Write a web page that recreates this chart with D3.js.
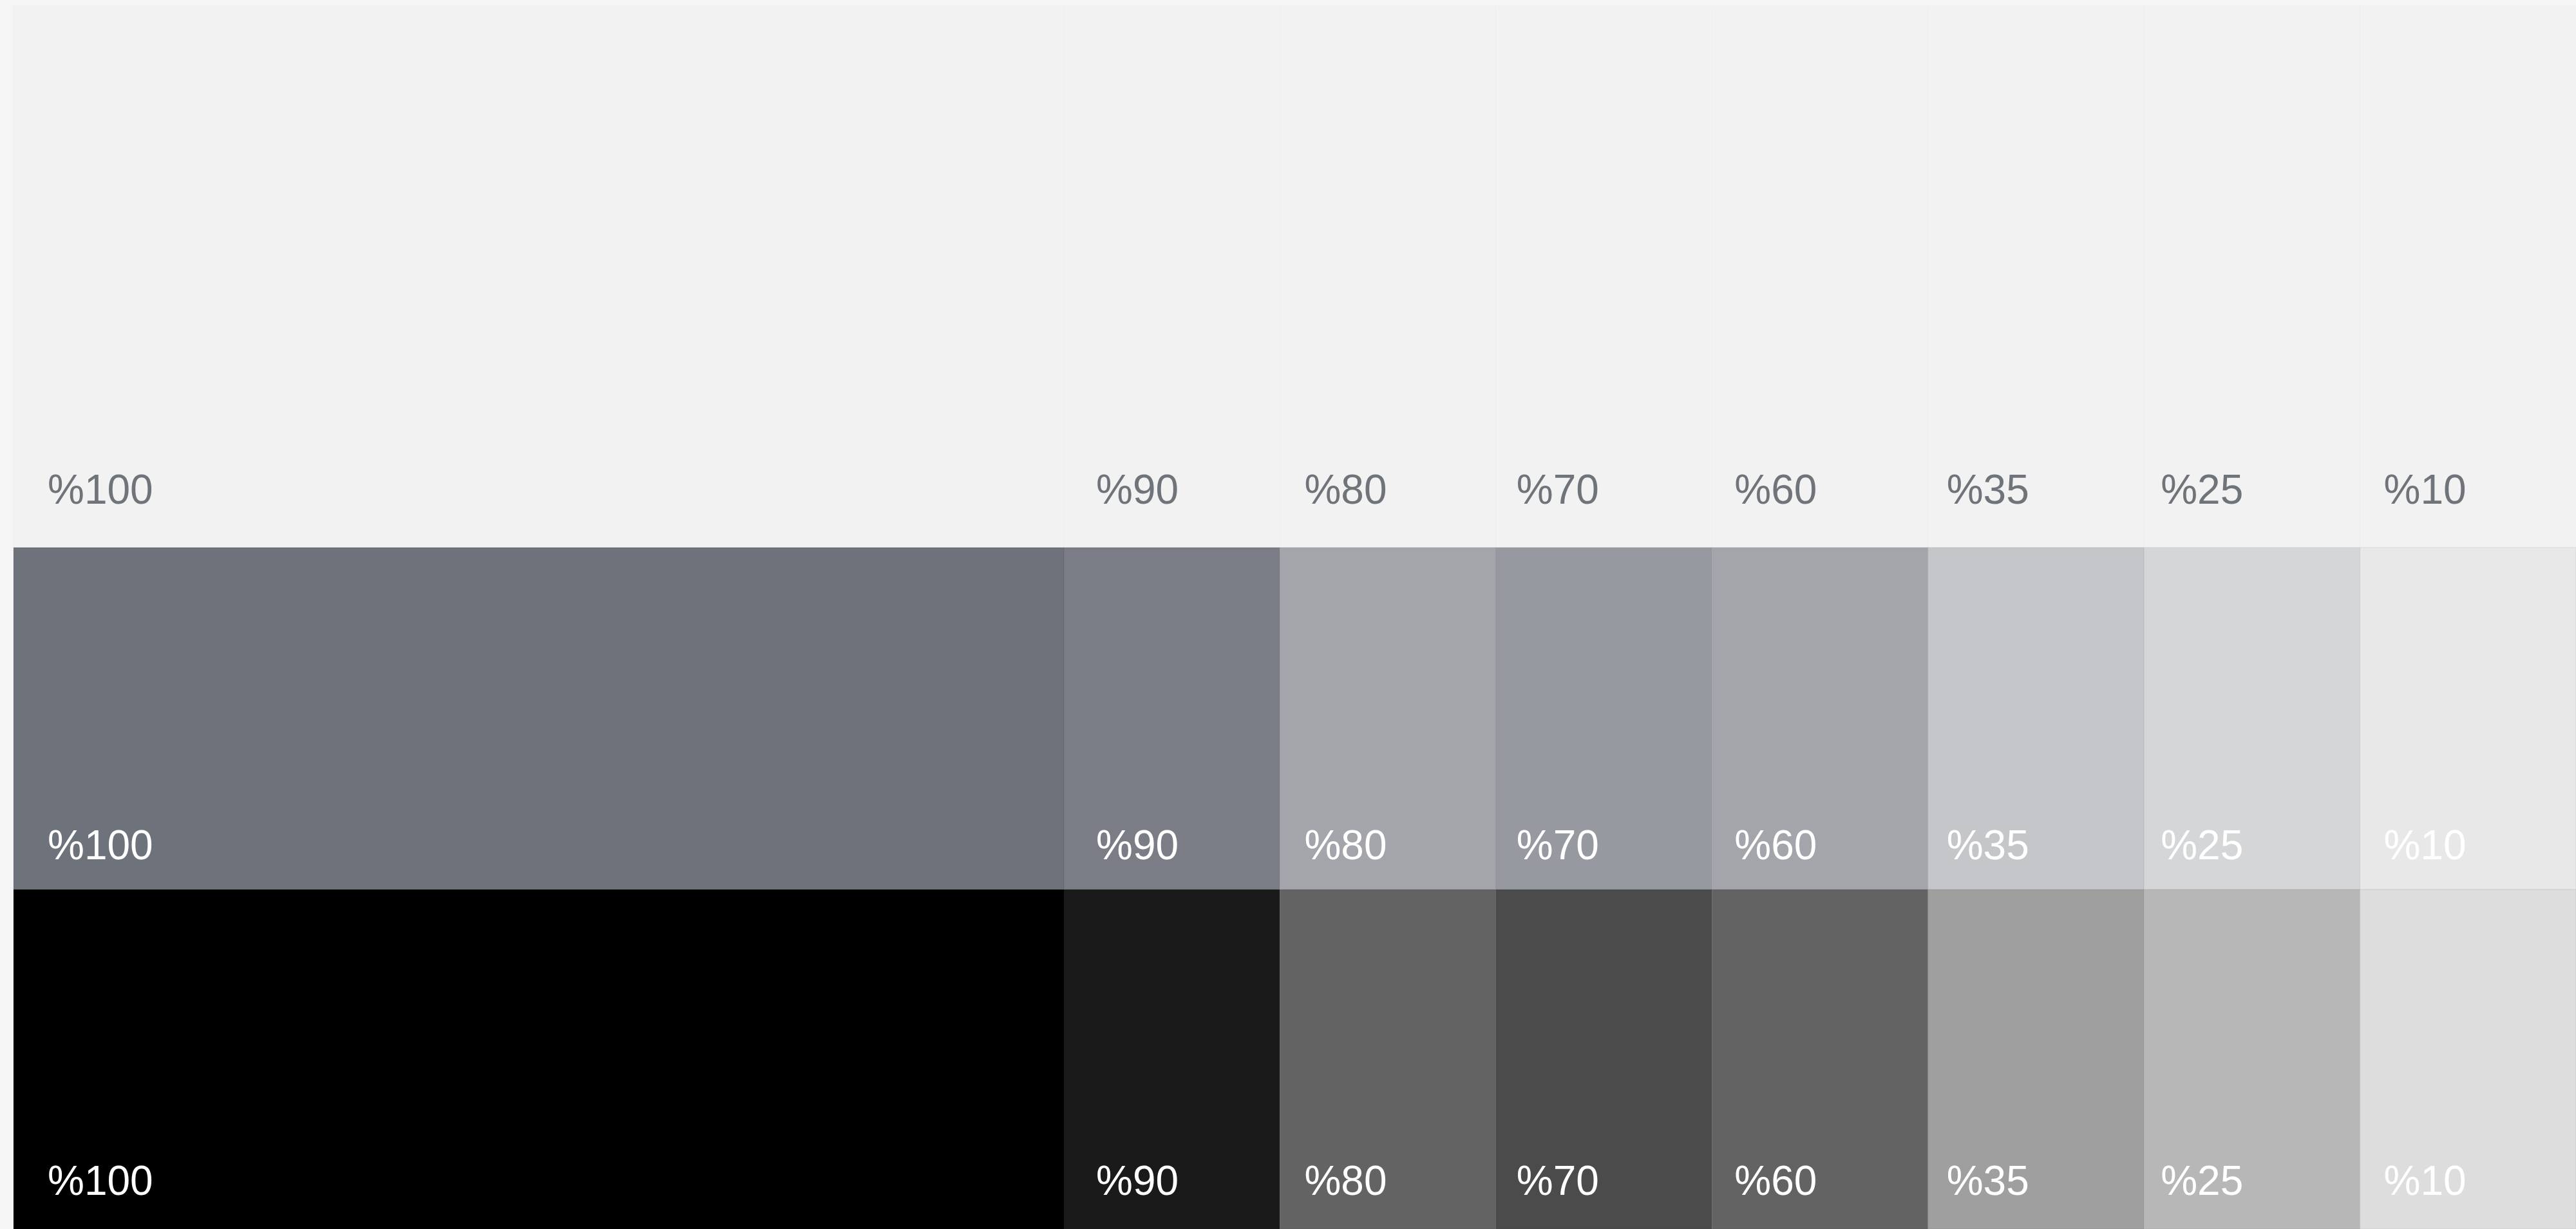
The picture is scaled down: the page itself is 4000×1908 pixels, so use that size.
<!DOCTYPE html>
<html>
<head>
<meta charset="utf-8">
<script src="https://cdn.jsdelivr.net/npm/d3@7"></script>
<style>
  html, body { margin: 0; padding: 0; background: #f5f5f5; overflow: hidden; }
  svg { display: block; }
</style>
</head>
<body>
<svg id="swatches"></svg>
<script>
// swatch labels, one per column
const labels = ["%100", "%90", "%80", "%70", "%60", "%35", "%25", "%10"];
const rowNames = ["base", "tint", "shade"];

// fill of each cell, per row
const baseColors  = ["#f2f2f2", "#f2f2f2", "#f2f2f2", "#f2f2f2", "#f2f2f2", "#f2f2f2", "#f2f2f2", "#f2f2f2"];
const tintColors  = ["#6e727a", "#7a7d85", "#a4a5aa", "#96999f", "#a4a5aa", "#c5c6c9", "#d5d6d8", "#e8e8e8"];
const shadeColors = ["#000000", "#1a1a1a", "#636363", "#4b4b4b", "#636363", "#9f9f9f", "#b7b7b7", "#dddddd"];
const labelColors = ["#6f737a", "#ffffff", "#ffffff"];

let width = 4000;
let height = 1908;

let layout = {
    left: 21,
    top: 9,
    bigRight: 1652
};

// label placement inside each cell
const labelOffset = [53, 50, 38, 32, 35, 29, 26, 37];
const rowTops = [9, 850, 1381];
const rowBottoms = [850, 1381, 1908];
const labelBaselines = [782, 1334, 1855];

let svg = d3.select('#swatches')
    .attr('width', width)
    .attr('height', height);

let band = d3.scaleBand()
    .domain(labels.slice(1))
    .range([layout.bigRight, width])
    .paddingInner(0)
    .paddingOuter(0);

function colX(label) {
    return label === labels[0] ? layout.left : band(label);
}
function colW(label) {
    return label === labels[0] ? layout.bigRight - layout.left : band.bandwidth();
}

let yTop = d3.scaleOrdinal().domain(rowNames).range(rowTops);
let yBottom = d3.scaleOrdinal().domain(rowNames).range(rowBottoms);
let yLabel = d3.scaleOrdinal().domain(rowNames).range(labelBaselines);
let textColor = d3.scaleOrdinal().domain(rowNames).range(labelColors);

let rowColors = [baseColors, tintColors, shadeColors];

let cells = [];
rowNames.forEach((row, r) => {
    labels.forEach((lab, i) => {
        cells.push({row: row, label: lab, index: i, color: rowColors[r][i]});
    });
});

let g = svg.append('g').attr('class', 'cells');

g.selectAll('rect')
    .data(cells)
    .join('rect')
    .attr('x', d => colX(d.label))
    .attr('y', d => yTop(d.row))
    .attr('width', d => colW(d.label))
    .attr('height', d => yBottom(d.row) - yTop(d.row))
    .attr('fill', d => d.color)
    .attr('stroke', d => d.row === 'base' ? 'rgba(0,0,0,0.015)' : 'rgba(0,0,0,0.07)')
    .attr('stroke-width', 1);

svg.append('g').attr('class', 'labels')
    .selectAll('text')
    .data(cells)
    .join('text')
    .text(d => d.label)
    .attr('x', d => colX(d.label) + labelOffset[d.index])
    .attr('y', d => yLabel(d.row))
    .attr('fill', d => textColor(d.row))
    .attr('font-family', '"Liberation Sans", Arial, Helvetica, sans-serif')
    .attr('font-size', 64);
</script>
</body>
</html>
